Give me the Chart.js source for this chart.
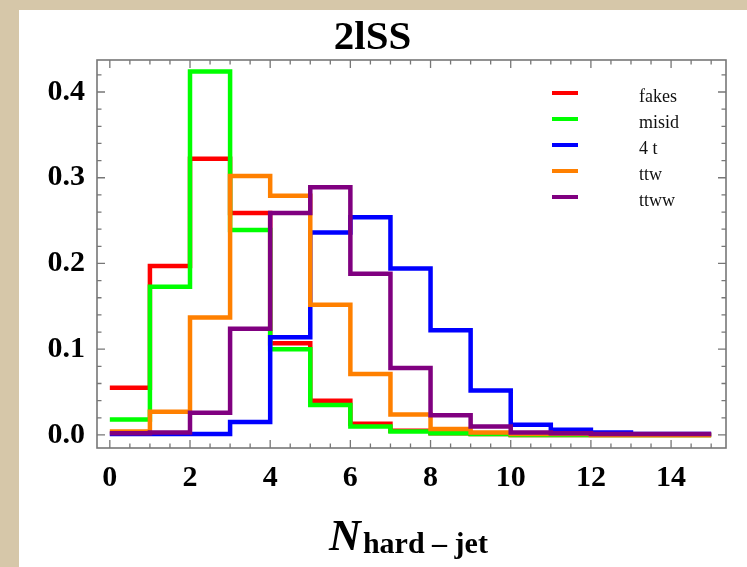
<!DOCTYPE html>
<html><head><meta charset="utf-8">
<script src="https://cdn.jsdelivr.net/npm/chart.js@4.4.1/dist/chart.umd.min.js"></script>
<style>
html,body{margin:0;padding:0;background:#d6c7a9;width:747px;height:567px;overflow:hidden}
#panel{position:absolute;left:19px;top:10px;width:728px;height:557px;background:#fff}
canvas{display:block}
</style></head><body>
<div id="panel"><canvas id="c" width="728" height="557"></canvas></div>
<script>
// bin lower edges (N_hard-jet), each bin has width 1
const bins = [0,1,2,3,4,5,6,7,8,9,10,11,12,13,14];
const binEnd = 15;
const seriesNames = ['fakes','misid','4 t','ttw','ttww'];
const fakes = [0.055,0.197,0.322,0.259,0.107,0.040,0.013,0.005,0.002,0.001,0.000,0.000,0.000,0.000,0.000];
const misid = [0.018,0.173,0.424,0.239,0.100,0.035,0.010,0.004,0.002,0.001,0.000,0.000,0.000,0.000,0.000];
const fourTop = [0.001,0.001,0.001,0.015,0.114,0.236,0.254,0.194,0.122,0.052,0.012,0.006,0.003,0.001,0.001];
const ttw = [0.004,0.027,0.137,0.302,0.279,0.152,0.071,0.024,0.007,0.003,0.001,0.001,0.000,0.000,0.000];
const ttww = [0.002,0.003,0.026,0.124,0.259,0.289,0.188,0.078,0.023,0.010,0.003,0.002,0.001,0.001,0.001];
const xTickValues = [0,2,4,6,8,10,12,14];
const yTickValues = [0,0.1,0.2,0.3,0.4];
const titleText = '2lSS';

const colors = ['#ff0000','#00ff00','#0000ff','#ff8000','#800080'];
const allSeries = [fakes, misid, fourTop, ttw, ttww];

function stepPoints(vals){
  const pts = bins.map((b,i)=>({x:b, y:vals[i]}));
  pts.push({x:binEnd, y:vals[vals.length-1]});
  return pts;
}

const SERIF = "'Liberation Serif','Times New Roman',serif";

const frameTicks = {
  id:'frameTicks',
  afterDatasetsDraw(chart){
    const {ctx, chartArea:a, scales:{x,y}} = chart;
    ctx.save();
    ctx.strokeStyle = '#777';
    ctx.lineWidth = 1.3;
    ctx.beginPath();
    for(let v=0; v<=15.0001; v+=0.5){
      const px = x.getPixelForValue(v);
      const major = xTickValues.some(t=>Math.abs(t-v)<1e-6);
      const L = major?8:4.5;
      ctx.moveTo(px,a.bottom); ctx.lineTo(px,a.bottom-L);
      ctx.moveTo(px,a.top); ctx.lineTo(px,a.top+L);
    }
    for(let k=0; k<=21; k++){
      const v = k*0.02;
      const py = y.getPixelForValue(v);
      const major = (k%5===0);
      const L = major?8:4.5;
      ctx.moveTo(a.left,py); ctx.lineTo(a.left+L,py);
      ctx.moveTo(a.right,py); ctx.lineTo(a.right-L,py);
    }
    ctx.stroke();
    ctx.lineWidth = 1.6;
    ctx.strokeRect(a.left, a.top, a.right-a.left, a.bottom-a.top);
    ctx.restore();
  }
};

const customLegend = {
  id:'customLegend',
  afterDraw(chart){
    const {ctx, chartArea:a} = chart;
    ctx.save();
    chart.data.datasets.forEach((ds,i)=>{
      const yy = a.top + 33 + i*26;
      ctx.strokeStyle = ds.borderColor;
      ctx.lineWidth = 4;
      ctx.beginPath();
      ctx.moveTo(a.right-174, yy); ctx.lineTo(a.right-148, yy);
      ctx.stroke();
      ctx.fillStyle = '#111';
      ctx.font = "18px " + SERIF;
      ctx.textAlign = 'left';
      ctx.textBaseline = 'alphabetic';
      ctx.fillText(ds.label, a.right-87, yy+8.5);
    });
    ctx.restore();
  }
};

const xAxisTitle = {
  id:'xAxisTitle',
  afterDraw(chart){
    const {ctx, chartArea:a} = chart;
    ctx.save();
    ctx.fillStyle = '#000';
    ctx.textBaseline = 'alphabetic';
    ctx.textAlign = 'left';
    const fN = "italic bold 44px " + SERIF;
    const fS = "bold 30px " + SERIF;
    ctx.font = fN; const wN = ctx.measureText('N').width;
    ctx.font = fS; const sub = 'hard \u2013 jet'; const wS = ctx.measureText(sub).width;
    const gap = 2;
    const total = wN + gap + wS;
    const x0 = (a.left + a.right)/2 - total/2 - 3;
    const base = a.bottom + 102;
    ctx.font = fN; ctx.fillText('N', x0, base);
    ctx.font = fS; ctx.fillText(sub, x0 + wN + gap, base + 3);
    ctx.restore();
  }
};

new Chart(document.getElementById('c'), {
  type:'line',
  data:{
    datasets: allSeries.map((vals,i)=>({
      label: seriesNames[i],
      data: stepPoints(vals),
      borderColor: colors[i],
      backgroundColor: colors[i],
      borderWidth: 4.5,
      stepped: 'before',
      pointRadius: 0,
      fill: false,
      borderCapStyle: 'butt',
      borderJoinStyle: 'miter',
      order: allSeries.length - i
    }))
  },
  options:{
    responsive:false,
    animation:false,
    devicePixelRatio:1,
    layout:{padding:{left:0,right:21,top:0,bottom:0}},
    plugins:{
      legend:{display:false},
      tooltip:{enabled:false},
      title:{display:true,text:titleText,color:'#000',
        font:{family:SERIF,size:41,weight:'bold',lineHeight:1.0},
        padding:{top:8,bottom:1}}
    },
    scales:{
      x:{type:'linear',min:-0.32,max:15.37,
        grid:{display:false,drawTicks:false},
        border:{display:false},
        afterBuildTicks:s=>{s.ticks = xTickValues.map(v=>({value:v}));},
        afterFit:s=>{s.height = 119;},
        ticks:{autoSkip:false,maxRotation:0,padding:12,color:'#000',
          font:{family:SERIF,size:30,weight:'bold'},
          callback:v=>String(v)}
      },
      y:{type:'linear',min:-0.0152,max:0.4373,
        grid:{display:false,drawTicks:false},
        border:{display:false},
        afterBuildTicks:s=>{s.ticks = yTickValues.map(v=>({value:v}));},
        afterFit:s=>{s.width = 78;},
        ticks:{padding:12,color:'#000',
          font:{family:SERIF,size:30,weight:'bold'},
          callback:v=>Number(v).toFixed(1)}
      }
    }
  },
  plugins:[frameTicks, customLegend, xAxisTitle]
});
</script>
</body></html>
